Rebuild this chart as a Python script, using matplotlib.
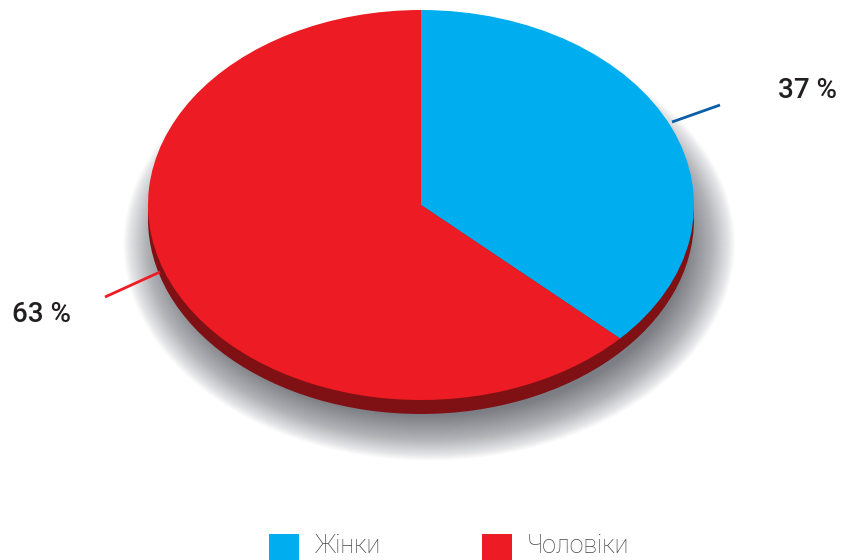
import numpy as np
import matplotlib
matplotlib.use("Agg")
import matplotlib.pyplot as plt
from matplotlib.patches import Ellipse, Rectangle

labels = ["Жінки", "Чоловіки"]
shares = [37, 63]
colors = ["#00aeef", "#ed1c24"]
side_color = "#7f1115"
line_colors = ["#0b5ea8", "#ed1c24"]

W, H = 842, 560
CX, CY = 421, 205      # pie centre, px from top-left
RX, RY = 273, 195      # ellipse radii, px
DEPTH = 14 / RY

fig = plt.figure(figsize=(W / 100, H / 100), dpi=100)
ax = fig.add_axes([0, 0, 1, 1])

# soft shadow under the pie
n = 50
for i in range(n):
    f = i / (n - 1)
    ax.add_patch(Ellipse((0.03, -0.2), 2 * (0.94 + 0.18 * f), 2 * (0.88 + 0.23 * f),
                         color="#4a4d57", alpha=0.02, lw=0, zorder=0))

# side (thickness)
ax.pie([100], colors=[side_color], radius=1, center=(0, -DEPTH),
       wedgeprops=dict(linewidth=0, zorder=1))
# top
ax.pie(shares, colors=colors, startangle=90, counterclock=False, radius=1,
       center=(0, 0), wedgeprops=dict(linewidth=0, zorder=2))

ax.set_xlim(-CX / RX, (W - CX) / RX)
ax.set_ylim(-(H - CY) / RY, CY / RY)
ax.set_aspect("auto")
ax.axis("off")


def px(x, y):
    return (x - CX) / RX, (CY - y) / RY


# leader lines and labels
for (x0, y0, x1, y1), c in zip([(672, 122, 720, 105), (105, 297, 160, 272)], line_colors):
    a, b = px(x0, y0)
    c2, d = px(x1, y1)
    ax.plot([a, c2], [b, d], color=c, lw=2, zorder=3, solid_capstyle="butt")

for (x, y), s in zip([(807, 90), (41, 315)], shares):
    ax.text(*px(x, y), f"{s} %", ha="center", va="center", fontsize=20,
            family="Roboto", fontweight="medium", color="#231f20", zorder=4)

# legend
for (bx, tx), lab, c in zip([(269, 315), (482, 527)], labels, colors):
    fig.patches.append(Rectangle((bx / W, 1 - 564 / H), 30 / W, 30 / H,
                                 transform=fig.transFigure, color=c, lw=0))
    fig.text(tx / W, 1 - 546 / H, lab, ha="left", va="center", fontsize=18,
             family="Roboto", fontweight="light", color="#444444")

fig.savefig("out.png", dpi=100)
